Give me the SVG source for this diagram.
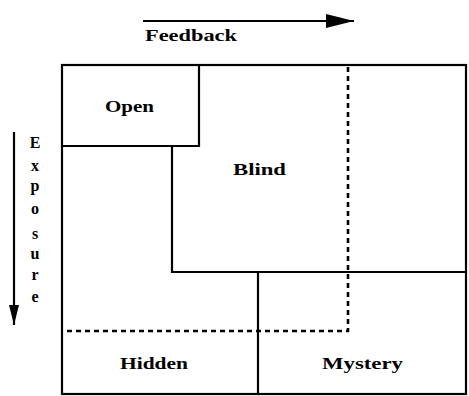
<svg xmlns="http://www.w3.org/2000/svg" width="469" height="396" viewBox="0 0 469 396">
<defs>
<style>
.ln{stroke:#000;stroke-width:2.2;fill:none}
.ds{stroke:#000;stroke-width:2.6;fill:none;stroke-dasharray:5,4}
.lb{font-family:"Liberation Serif",serif;font-weight:bold;font-size:17px;fill:#000}
.ex{font-family:"Liberation Serif",serif;font-weight:bold;font-size:16px;fill:#000;text-anchor:middle}
</style>
<marker id="ahb" viewBox="0 0 28 16" refX="28" refY="8" markerWidth="28" markerHeight="16" orient="auto" markerUnits="userSpaceOnUse">
<path d="M0,1 L28,8 L0,15 Z" fill="#000"/>
</marker>
<marker id="ahv" viewBox="0 0 20 12" refX="20" refY="6" markerWidth="20" markerHeight="12" orient="auto" markerUnits="userSpaceOnUse">
<path d="M0,1 L20,6 L0,11 Z" fill="#000"/>
</marker>
</defs>
<rect width="469" height="396" fill="#fff"/>
<g id="connectors">
<line class="ln" x1="143" y1="21" x2="354" y2="21" stroke-width="3" marker-end="url(#ahb)"/>
<line class="ln" x1="14" y1="132" x2="14" y2="325" stroke-width="3" marker-end="url(#ahv)"/>
</g>
<g id="frame">
<rect class="ln" x="62" y="65" width="404" height="329"/>
</g>
<g id="open">
<path class="ln" d="M199,65 V146 H62"/>
<text class="lb" x="105" y="112" textLength="49" lengthAdjust="spacingAndGlyphs">Open</text>
</g>
<g id="blind">
<path class="ln" d="M172,146 V272 H466"/>
<text class="lb" x="233" y="175" textLength="53" lengthAdjust="spacingAndGlyphs">Blind</text>
</g>
<g id="hidden">
<path class="ln" d="M258,272 V394"/>
<text class="lb" x="120" y="369" textLength="68" lengthAdjust="spacingAndGlyphs">Hidden</text>
</g>
<g id="mystery">
<text class="lb" x="322" y="369" textLength="81" lengthAdjust="spacingAndGlyphs">Mystery</text>
</g>
<g id="dashed">
<path class="ds" d="M348,67 V331 H63"/>
</g>
<g id="feedback">
<text class="lb" x="145" y="41" textLength="92" lengthAdjust="spacingAndGlyphs">Feedback</text>
</g>
<g id="exposure">
<text class="ex" x="35" y="148">E</text>
<text class="ex" x="35" y="171">x</text>
<text class="ex" x="35" y="191">p</text>
<text class="ex" x="35" y="214">o</text>
<text class="ex" x="35" y="239">s</text>
<text class="ex" x="35" y="259">u</text>
<text class="ex" x="35" y="280">r</text>
<text class="ex" x="35" y="302">e</text>
</g>
</svg>
